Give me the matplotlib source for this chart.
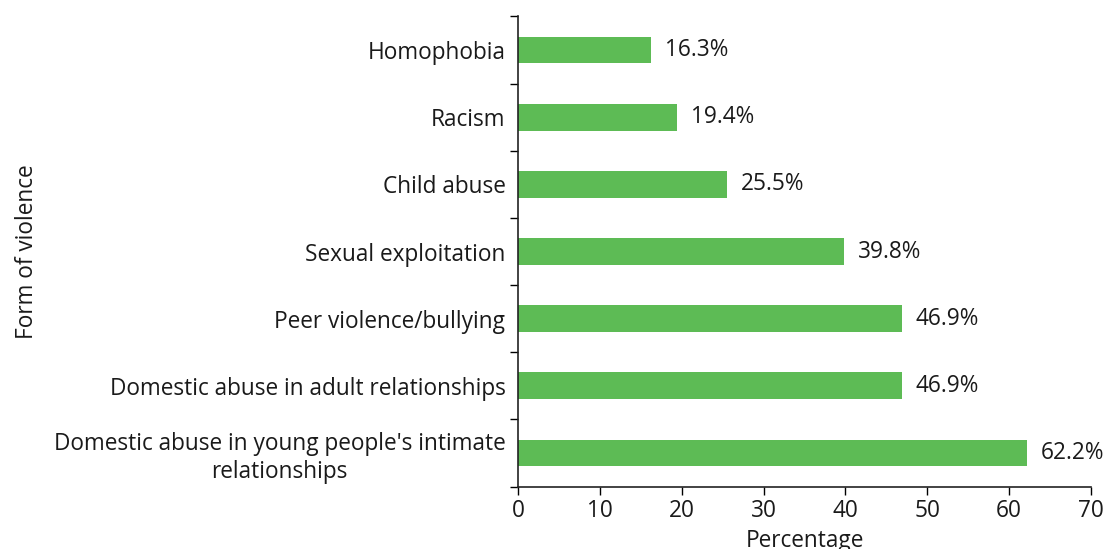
import matplotlib
matplotlib.use("Agg")
import matplotlib.pyplot as plt
import numpy as np

categories = [
    "Homophobia",
    "Racism",
    "Child abuse",
    "Sexual exploitation",
    "Peer violence/bullying",
    "Domestic abuse in adult relationships",
    "Domestic abuse in young people's intimate\nrelationships",
]
values = [16.3, 19.4, 25.5, 39.8, 46.9, 46.9, 62.2]
xticks = [0, 10, 20, 30, 40, 50, 60, 70]

plt.rcParams['font.family'] = ['Open Sans', 'DejaVu Sans']
FS = 16.3
TXT = '#1a1a1a'
BAR = '#5dbb55'

fig = plt.figure(figsize=(11.09, 5.49), dpi=100)
ax = fig.add_axes([0.467, 0.1137, 0.5168, 0.8563])

n = len(categories)
y = np.arange(n)
ax.barh(y, values, height=0.4, color=BAR)
ax.set_ylim(n - 0.5, -0.5)
ax.set_xlim(0, 70)
ax.set_xticks(xticks)
ax.set_xticklabels([str(t) for t in xticks], fontsize=FS, color=TXT)

ax.set_yticks(y)
labels = ax.set_yticklabels(categories, fontsize=FS, color=TXT)
for lab in labels:
    lab.set_multialignment('center')
ax.tick_params(axis='y', which='major', length=0, pad=9)
ax.set_yticks(np.arange(-0.5, n, 1.0), minor=True)
ax.tick_params(axis='y', which='minor', length=6, direction='out', width=1)
ax.tick_params(axis='x', length=6, direction='out', width=1, pad=3)

for yi, v in zip(y, values):
    ax.annotate(f"{v:.1f}%", xy=(v, yi), xytext=(10, 0), textcoords='offset points',
                va='center', ha='left', fontsize=FS, color=TXT)

for s in ['top', 'right']:
    ax.spines[s].set_visible(False)
for s in ['left', 'bottom']:
    ax.spines[s].set_color('#222222')
    ax.spines[s].set_linewidth(1.2)

ax.set_xlabel("Percentage", fontsize=FS, color=TXT, labelpad=4)
fig.text(0.024, 0.541, "Form of violence", rotation=90, va='center', ha='center', fontsize=FS, color=TXT)

fig.savefig("out.png", dpi=100)
